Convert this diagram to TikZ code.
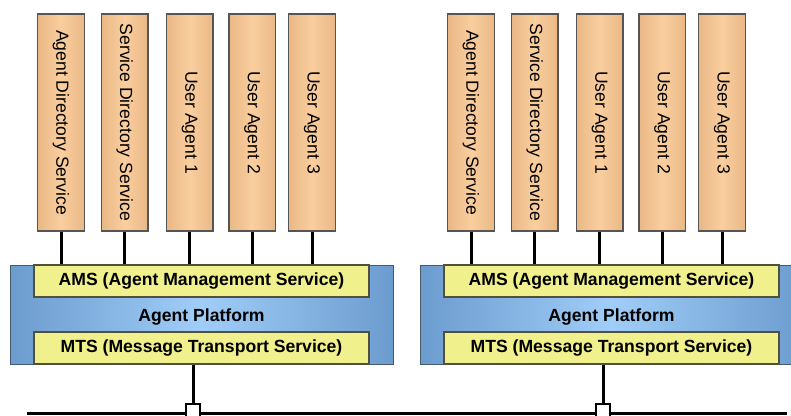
\documentclass[tikz,border=0pt]{standalone}
\usepackage{fontspec}
\setmainfont{Liberation Sans}

\definecolor{agentmid}{RGB}{250,206,158}
\definecolor{agentedge}{RGB}{234,184,134}
\definecolor{agentline}{RGB}{85,85,85}
\definecolor{apmid}{RGB}{160,205,248}
\definecolor{apedge}{RGB}{108,156,206}
\definecolor{apline}{RGB}{70,90,110}
\definecolor{svcfill}{RGB}{240,240,140}
\definecolor{svcline}{RGB}{80,80,60}

\begin{document}
\begin{tikzpicture}[x=1pt,y=-1pt,
    agent/.style={draw=agentline, line width=1.2pt, rotate=-90,
        minimum width=217pt, minimum height=46.5pt, inner sep=0pt,
        left color=agentedge, right color=agentedge, middle color=agentmid,
        font=\fontsize{17.6}{20}\selectfont},
    platform/.style={draw=apline, line width=1pt,
        minimum width=383pt, minimum height=99pt, inner sep=0pt,
        left color=apedge, right color=apedge, middle color=apmid},
    service/.style={draw=svcline, line width=1.2pt, fill=svcfill,
        minimum width=335pt, minimum height=32pt, inner sep=0pt,
        font=\bfseries\fontsize{17.6}{20}\selectfont},
    caption/.style={font=\bfseries\fontsize{17.6}{20}\selectfont, inner sep=0pt},
    link/.style={line width=3pt},
    port/.style={draw, line width=1.2pt, fill=white, minimum size=14pt, inner sep=0pt}]

    % fix the page size and cut off whatever runs past it
    \useasboundingbox (0,0) rectangle (791,415);
    \clip (0,0) rectangle (791,415);

    % network bus along the bottom
    \coordinate (bus-w) at (27,413);
    \coordinate (bus-e) at (787,413);
    \draw[link] (bus-w) -- (bus-e);

    % two identical platforms, the second one shifted right
    \foreach \g/\dx in {a/0, b/410} {
      \begin{scope}[xshift=\dx]
        % platform body with its two service bars
        \node[platform] (\g-ap) at (201.5,314.5) {};
        \node[caption] (\g-aplabel) at (201.5,317) {Agent Platform};
        \node[service] (\g-ams) at (201.5,281) {AMS (Agent Management Service)};
        \node[service] (\g-mts) at (201.5,348) {MTS (Message Transport Service)};

        % agents standing on the AMS
        \foreach \i/\x/\t in {1/61/Agent Directory Service,
                              2/124.7/Service Directory Service,
                              3/189.7/User Agent 1,
                              4/252.3/User Agent 2,
                              5/312/User Agent 3} {
          \node[agent] (\g-c\i) at (\x,122.5) {\t};
          \draw[link] (\g-c\i.east) -- (\g-c\i.east |- \g-ams.north);
        }

        % hook the MTS onto the bus
        \node[port] (\g-port) at (193,411) {};
        \draw[link] (\g-port.north) -- (\g-port.north |- \g-mts.south);
      \end{scope}
    }
\end{tikzpicture}
\end{document}
